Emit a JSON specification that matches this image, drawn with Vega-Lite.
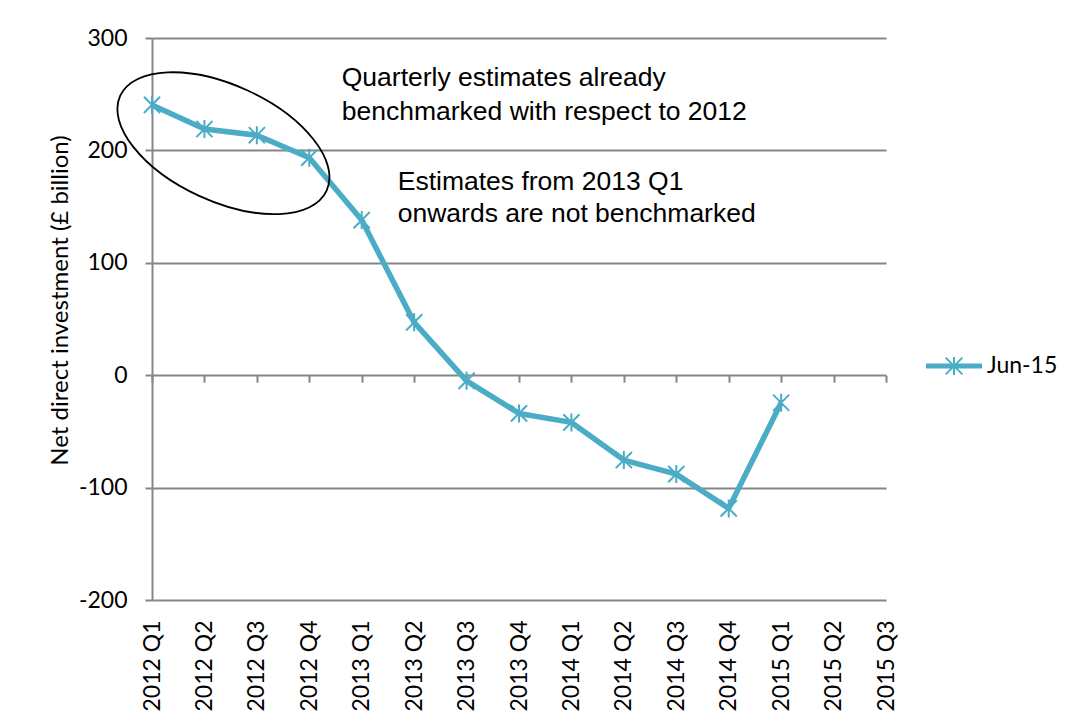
{
  "$schema": "https://vega.github.io/schema/vega-lite/v6.json",
  "width": 734,
  "height": 562,
  "autosize": {"type": "none"},
  "padding": {"left": 152, "top": 38, "right": 184, "bottom": 117},
  "background": "white",
  "config": {"view": {"stroke": null}, "font": "Lato"},
  "datasets": {
    "series": [
      {"quarter": "2012 Q1", "value": 240.5, "series": "Jun-15"},
      {"quarter": "2012 Q2", "value": 219, "series": "Jun-15"},
      {"quarter": "2012 Q3", "value": 213.5, "series": "Jun-15"},
      {"quarter": "2012 Q4", "value": 193.5, "series": "Jun-15"},
      {"quarter": "2013 Q1", "value": 138, "series": "Jun-15"},
      {"quarter": "2013 Q2", "value": 47, "series": "Jun-15"},
      {"quarter": "2013 Q3", "value": -5, "series": "Jun-15"},
      {"quarter": "2013 Q4", "value": -34, "series": "Jun-15"},
      {"quarter": "2014 Q1", "value": -42, "series": "Jun-15"},
      {"quarter": "2014 Q2", "value": -75.5, "series": "Jun-15"},
      {"quarter": "2014 Q3", "value": -88, "series": "Jun-15"},
      {"quarter": "2014 Q4", "value": -118.5, "series": "Jun-15"},
      {"quarter": "2015 Q1", "value": -24.5, "series": "Jun-15"}
    ],
    "ellipse": [{"quarter": "2012 Q2", "value": 206.4}],
    "note1": [{"quarter": "2013 Q1", "value": 257.3, "text": ["Quarterly estimates already", "benchmarked with respect to 2012"]}],
    "note2": [{"quarter": "2013 Q1", "value": 164.8, "text": ["Estimates from 2013 Q1", "onwards are not benchmarked"]}]
  },
  "resolve": {"axis": {"x": "independent"}},
  "layer": [
    {
      "data": {"name": "series"},
      "mark": {"type": "line", "strokeWidth": 5.5, "strokeJoin": "round", "color": "#4BACC6"},
      "encoding": {
        "x": {
          "field": "quarter", "type": "ordinal",
          "scale": {"type": "point", "padding": 0, "domain": ["2012 Q1", "2012 Q2", "2012 Q3", "2012 Q4", "2013 Q1", "2013 Q2", "2013 Q3", "2013 Q4", "2014 Q1", "2014 Q2", "2014 Q3", "2014 Q4", "2015 Q1", "2015 Q2", "2015 Q3"]},
          "axis": {"orient": "bottom", "domain": false, "ticks": false, "grid": false, "labelAngle": -90, "labelFont": "Lato", "labelFontSize": 23, "labelColor": "black", "labelPadding": 20, "title": null}
        },
        "y": {
          "field": "value", "type": "quantitative",
          "scale": {"domain": [-200, 300], "nice": false, "zero": false},
          "axis": {
            "orient": "left",
            "values": [-200, -100, 0, 100, 200, 300],
            "grid": true, "gridColor": "#868686", "gridWidth": 2,
            "domainColor": "#868686", "domainWidth": 2,
            "tickColor": "#868686", "tickWidth": 2, "tickSize": 7,
            "labelFont": "Lato", "labelFontSize": 23, "labelColor": "black", "labelPadding": 18,
            "labelExpr": "'' + datum.value",
            "title": "Net direct investment (£ billion)",
            "titleFont": "Lato", "titleFontSize": 24, "titleFontWeight": "normal", "titleColor": "black", "titlePadding": 6,
            "titleY": 262
          }
        },
        "color": {
          "field": "series", "type": "nominal",
          "scale": {"range": ["#4BACC6"]},
          "legend": {
            "orient": "none", "legendX": 774, "legendY": 300, "title": null, "padding": 0,
            "symbolType": "M-1,-0.06L1,-0.06L1,0.06L-1,0.06Z M-0.31,-0.31L0.31,0.31M-0.31,0.31L0.31,-0.31M0,-0.33L0,0.33",
            "symbolSize": 2916, "symbolStrokeWidth": 2,
            "labelFont": "Lato", "labelFontSize": 23, "labelColor": "black", "labelOffset": 5,
            "encode": {"symbols": {"update": {"fill": {"value": "#4BACC6"}, "stroke": {"value": "#4BACC6"}, "strokeWidth": {"value": 2}, "opacity": {"value": 1}}}}
          }
        }
      }
    },
    {
      "data": {"name": "series"},
      "mark": {"type": "point", "opacity": 0},
      "encoding": {
        "x": {
          "field": "quarter", "type": "ordinal",
          "axis": {"orient": "bottom", "offset": -224.8, "labels": false, "domain": false, "ticks": true, "tickSize": 7, "tickColor": "#868686", "tickWidth": 2, "title": null, "grid": false}
        },
        "y": {"field": "value", "type": "quantitative"}
      }
    },
    {
      "data": {"name": "series"},
      "mark": {"type": "point", "shape": "M-0.9,-0.9L0.9,0.9M-0.9,0.9L0.9,-0.9M0,-1L0,1", "size": 324, "filled": false, "strokeWidth": 2, "opacity": 1},
      "encoding": {
        "x": {"field": "quarter", "type": "ordinal", "axis": null},
        "y": {"field": "value", "type": "quantitative"},
        "color": {"value": "#4BACC6"}
      }
    },
    {
      "data": {"name": "ellipse"},
      "mark": {"type": "point", "shape": "M-0.842,-0.475A1.136,0.58,24.7,1,0,1.222,0.475A1.136,0.58,24.7,1,0,-0.842,-0.475Z", "size": 40000, "filled": false, "strokeWidth": 1.8, "opacity": 1},
      "encoding": {
        "x": {"field": "quarter", "type": "ordinal", "axis": null},
        "y": {"field": "value", "type": "quantitative"},
        "color": {"value": "black"}
      }
    },
    {
      "data": {"name": "note1"},
      "mark": {"type": "text", "align": "left", "baseline": "alphabetic", "dx": -20, "font": "Liberation Sans", "fontSize": 26.5, "lineHeight": 34, "color": "black"},
      "encoding": {
        "x": {"field": "quarter", "type": "ordinal", "axis": null},
        "y": {"field": "value", "type": "quantitative"},
        "text": {"field": "text"}
      }
    },
    {
      "data": {"name": "note2"},
      "mark": {"type": "text", "align": "left", "baseline": "alphabetic", "dx": 36, "font": "Liberation Sans", "fontSize": 26.5, "lineHeight": 32, "color": "black"},
      "encoding": {
        "x": {"field": "quarter", "type": "ordinal", "axis": null},
        "y": {"field": "value", "type": "quantitative"},
        "text": {"field": "text"}
      }
    }
  ]
}
